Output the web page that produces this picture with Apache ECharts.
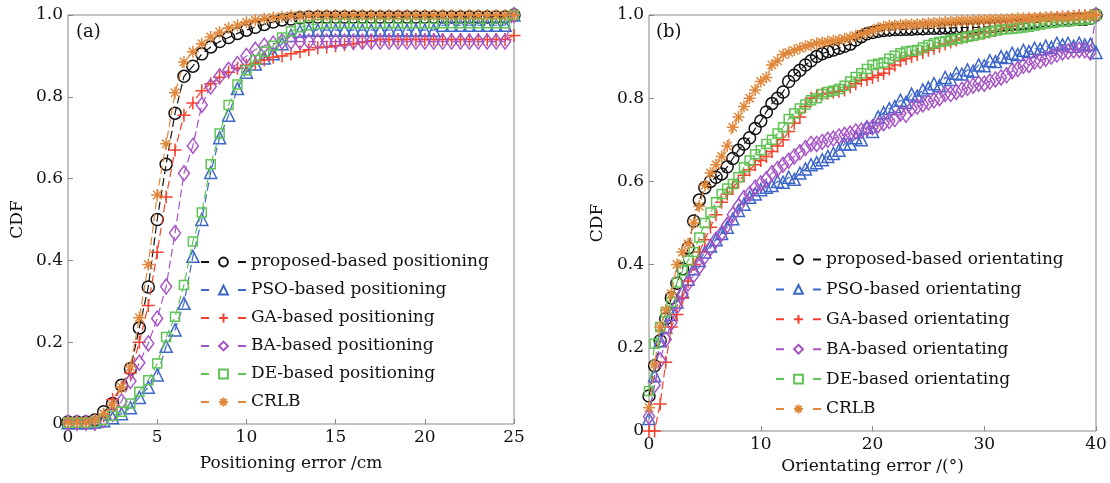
<!DOCTYPE html>
<html><head><meta charset="utf-8">
<script src="https://cdn.jsdelivr.net/npm/echarts@6/dist/echarts.min.js"></script>
<style>html,body{margin:0;padding:0;background:#fff}#c{width:1110px;height:483px}</style>
</head><body><div id="c"></div>
<script>
// ---------- data: panel (a) positioning error (cm) ----------
const xA = [0,0.5,1,1.5,2,2.5,3,3.5,4,4.5,5,5.5,6,6.5,7,7.5,8,8.5,9,9.5,10,10.5,11,11.5,12,12.5,13,13.5,14,14.5,15,15.5,16,16.5,17,17.5,18,18.5,19,19.5,20,20.5,21,21.5,22,22.5,23,23.5,24,24.5,25];
const propA = [0.005,0.005,0.005,0.01,0.03,0.05,0.095,0.135,0.235,0.335,0.50,0.635,0.76,0.85,0.875,0.905,0.922,0.935,0.945,0.955,0.963,0.97,0.977,0.983,0.988,0.99,0.993,0.995,
  0.995,0.995,0.995,0.995,0.995,0.995,0.995,0.995,0.995,0.995,0.995,0.995,0.995,0.995,0.995,0.995,0.995,0.995,0.995,0.995,0.995,0.995,1.0];
const psoA = [0.003,0.003,0.003,0.005,0.008,0.015,0.025,0.04,0.065,0.09,0.12,0.19,0.23,0.295,0.41,0.50,0.615,0.70,0.755,0.82,0.86,0.88,0.895,0.905,0.93,0.95,0.96,
  0.963,0.963,0.963,0.963,0.963,0.963,0.963,0.963,0.963,0.963,0.963,0.963,0.963,0.963,0.963,
  0.975,0.975,0.975,0.975,0.975,0.975,0.975,0.975,1.0];
const gaA = [0.003,0.003,0.003,0.008,0.02,0.06,0.09,0.125,0.20,0.29,0.42,0.555,0.67,0.755,0.785,0.815,0.832,0.848,0.86,0.87,0.877,0.882,0.89,0.897,0.90,0.905,0.91,0.915,0.92,0.922,0.925,0.927,0.93,0.933,0.937,0.94,
  0.94,0.94,0.94,0.94,0.94,0.94,0.94,0.94,0.94,0.94,0.94,0.94,0.94,0.94,0.95];
const baA = [0.003,0.003,0.003,0.003,0.01,0.025,0.055,0.105,0.15,0.197,0.258,0.336,0.467,0.613,0.68,0.78,0.825,0.85,0.866,0.88,0.90,0.915,0.925,0.93,0.935,
  0.935,0.935,0.935,0.935,0.935,0.935,0.935,0.935,0.935,0.935,0.935,0.935,0.935,0.935,0.935,0.935,0.935,0.935,0.935,0.935,0.935,0.935,0.935,0.935,0.935,1.0];
const deA = [0.003,0.003,0.003,0.005,0.01,0.02,0.03,0.05,0.079,0.107,0.148,0.213,0.262,0.34,0.446,0.517,0.635,0.71,0.78,0.83,0.865,0.89,0.91,0.925,0.945,0.96,0.97,0.975,0.978,
  0.98,0.98,0.98,0.98,0.98,0.98,0.98,0.98,0.98,0.98,0.98,0.98,0.98,0.98,0.98,0.98,0.98,0.98,0.98,0.98,0.98,1.0];
const crlbA = [0.005,0.005,0.005,0.01,0.025,0.045,0.09,0.14,0.26,0.39,0.56,0.685,0.81,0.885,0.91,0.93,0.946,0.958,0.968,0.975,0.982,0.987,0.991,0.994,0.996,0.998,0.998,0.999,
  1.0,1.0,1.0,1.0,1.0,1.0,1.0,1.0,1.0,1.0,1.0,1.0,1.0,1.0,1.0,1.0,1.0,1.0,1.0,1.0,1.0,1.0,1.0];

// ---------- data: panel (b) orientating error (deg) ----------
const xB = [0,0.5,1,1.5,2,2.5,3,3.5,4,4.5,5,5.5,6,6.5,7,7.5,8,8.5,9,9.5,10,10.5,11,11.5,12,12.5,13,13.5,14,14.5,15,15.5,16,16.5,17,17.5,18,18.5,19,19.5,20,20.5,21,21.5,22,22.5,23,23.5,24,24.5,25,25.5,26,26.5,27,27.5,28,28.5,29,29.5,30,30.5,31,31.5,32,32.5,33,33.5,34,34.5,35,35.5,36,36.5,37,37.5,38,38.5,39,39.5,40];
const propB = [0.084,0.157,0.217,0.27,0.32,0.355,0.39,0.44,0.505,0.555,
  0.585,0.60,0.61,0.618,0.635,0.655,0.675,0.69,0.705,0.727,
  0.745,0.767,0.787,0.80,0.815,0.84,0.855,0.867,0.88,0.89,
  0.90,0.907,0.912,0.916,0.92,0.925,0.93,0.94,0.948,0.955,
  0.958,0.961,0.963,0.964,0.965,0.965,0.966,0.966,0.967,0.967,
  0.968,0.968,0.968,0.969,0.969,0.969,0.97,0.97,0.97,0.97,
  0.971,0.972,0.973,0.975,0.976,0.977,0.978,0.979,0.98,0.982,
  0.983,0.984,0.985,0.986,0.987,0.988,0.989,0.99,0.99,0.992,1.0];
const psoB = [0.03,0.133,0.217,0.25,0.28,0.31,0.335,0.365,0.39,0.41,
  0.43,0.445,0.46,0.475,0.49,0.51,0.53,0.545,0.562,0.57,
  0.58,0.586,0.59,0.60,0.598,0.61,0.605,0.62,0.63,0.64,
  0.645,0.652,0.66,0.667,0.675,0.69,0.69,0.705,0.70,0.73,
  0.72,0.755,0.765,0.775,0.78,0.795,0.79,0.81,0.805,0.82,
  0.825,0.835,0.83,0.85,0.845,0.86,0.858,0.868,0.865,0.88,
  0.878,0.89,0.888,0.90,0.898,0.908,0.905,0.915,0.912,0.92,
  0.918,0.925,0.922,0.932,0.928,0.932,0.925,0.932,0.928,0.93,0.91];
const gaB = [0,0,0.065,0.165,0.25,0.28,0.32,0.36,0.40,0.43,
  0.46,0.49,0.52,0.55,0.57,0.585,0.60,0.615,0.628,0.64,
  0.65,0.66,0.672,0.685,0.70,0.72,0.74,0.755,0.78,0.80,
  0.805,0.81,0.812,0.815,0.817,0.82,0.827,0.835,0.843,0.845,
  0.85,0.855,0.86,0.87,0.88,0.89,0.895,0.90,0.905,0.91,
  0.915,0.92,0.925,0.93,0.935,0.94,0.945,0.948,0.952,0.955,
  0.957,0.96,0.963,0.966,0.97,0.973,0.978,0.983,0.988,0.99,
  0.991,0.992,0.993,0.994,0.995,0.996,0.997,0.998,0.998,0.999,1.0];
const baB = [0.035,0.11,0.17,0.22,0.26,0.30,0.33,0.355,0.375,0.395,
  0.42,0.44,0.46,0.475,0.495,0.52,0.54,0.56,0.57,0.585,
  0.595,0.605,0.62,0.63,0.64,0.65,0.66,0.67,0.68,0.69,
  0.69,0.695,0.70,0.703,0.708,0.712,0.715,0.72,0.722,0.728,
  0.73,0.735,0.74,0.745,0.75,0.763,0.76,0.775,0.78,0.785,
  0.79,0.795,0.80,0.81,0.81,0.815,0.82,0.825,0.83,0.835,
  0.835,0.84,0.845,0.85,0.855,0.865,0.87,0.878,0.88,0.888,
  0.89,0.895,0.90,0.905,0.91,0.912,0.915,0.916,0.915,0.91,1.0];
const deB = [0.096,0.21,0.25,0.285,0.31,0.357,0.385,0.41,0.43,0.465,
  0.50,0.525,0.55,0.57,0.583,0.594,0.61,0.634,0.65,0.665,
  0.675,0.69,0.70,0.715,0.73,0.75,0.763,0.775,0.785,0.795,
  0.80,0.81,0.815,0.818,0.822,0.83,0.84,0.851,0.86,0.87,
  0.88,0.883,0.886,0.895,0.902,0.908,0.912,0.914,0.916,0.922,
  0.928,0.932,0.935,0.937,0.94,0.943,0.945,0.948,0.95,0.953,
  0.957,0.96,0.963,0.965,0.966,0.967,0.968,0.97,0.972,0.975,
  0.977,0.98,0.981,0.983,0.984,0.985,0.986,0.988,0.989,0.99,1.0];
const crlbB = [0.056,0.16,0.25,0.29,0.33,0.40,0.43,0.45,0.50,0.54,
  0.59,0.62,0.64,0.66,0.685,0.73,0.755,0.78,0.80,0.82,
  0.84,0.85,0.88,0.89,0.905,0.91,0.915,0.92,0.925,0.928,
  0.932,0.934,0.936,0.938,0.94,0.943,0.946,0.95,0.954,0.958,
  0.963,0.968,0.972,0.974,0.975,0.976,0.977,0.977,0.978,0.979,
  0.98,0.981,0.982,0.983,0.984,0.985,0.986,0.986,0.987,0.988,
  0.988,0.989,0.989,0.99,0.99,0.991,0.992,0.992,0.993,0.993,
  0.994,0.994,0.995,0.995,0.996,0.996,0.997,0.997,0.998,0.999,1.0];

const namesA = ['proposed-based positioning','PSO-based positioning','GA-based positioning','BA-based positioning','DE-based positioning','CRLB'];
const namesB = ['proposed-based orientating','PSO-based orientating','GA-based orientating','BA-based orientating','DE-based orientating','CRLB'];
const yTicks = ['0','0.2','0.4','0.6','0.8','1.0'];
const xTicksA = ['0','5','10','15','20','25'];
const xTicksB = ['0','10','20','30','40'];

// ---------- styles ----------
const FONT = 'DejaVu Serif';
const TXT = '#111';
const colors = ['#111111','#3d66c9','#f5402c','#a653c6','#5fc455','#e0873a'];
const PLUS = 'path://M5,0L5,10M0,5L10,5';
const STAR = 'path://M5,0L5,10M0,5L10,5M1.5,1.5L8.5,8.5M1.5,8.5L8.5,1.5';
const symbols = ['circle','triangle',PLUS,'diamond','rect',STAR];
const sizes = [12,12,13,[11,15],9,12];

function zip(xs, ys){ return xs.map((x,i)=>[x, ys[i]]); }
function mk(name, idx, xs, ys, g){
  return {
    type:'line', name, xAxisIndex:g, yAxisIndex:g, data: zip(xs, ys),
    symbol: symbols[idx], symbolSize: sizes[idx], showAllSymbol:true,
    itemStyle:{color:'rgba(0,0,0,0)', borderColor:colors[idx], borderWidth:1.5},
    lineStyle:{color:colors[idx], width:1.2, type:[8,4]},
    emphasis:{disabled:true}, animation:false, clip:false, z: 2+idx
  };
}
const seriesA = [propA,psoA,gaA,baA,deA,crlbA];
const seriesB = [propB,psoB,gaB,baB,deB,crlbB];
const series = [];
seriesA.forEach((d,i)=>series.push(mk(namesA[i], i, xA, d, 0)));
seriesB.forEach((d,i)=>series.push(mk(namesB[i], i, xB, d, 1)));

function xAx(g, max, interval, ticks, name, gap){
  return {type:'value', gridIndex:g, min:0, max, interval,
    axisLine:{show:false}, splitLine:{show:false},
    axisTick:{inside:true, length:5, lineStyle:{color:'#888'}},
    axisLabel:{margin:5, fontFamily:FONT, fontSize:17, color:TXT, formatter:v=>ticks[Math.round(v/interval)]},
    name, nameLocation:'middle', nameGap:gap, nameTextStyle:{fontFamily:FONT, fontSize:17, color:TXT}};
}
function yAx(g, gap){
  return {type:'value', gridIndex:g, min:0, max:1, interval:0.2,
    axisLine:{show:false}, splitLine:{show:false},
    axisTick:{inside:true, length:5, lineStyle:{color:'#888'}},
    axisLabel:{margin:5, fontFamily:FONT, fontSize:17, color:TXT, formatter:v=>yTicks[Math.round(v/0.2)]},
    name:'CDF', nameLocation:'middle', nameGap:gap, nameTextStyle:{fontFamily:FONT, fontSize:17, color:TXT}};
}
function lg(names, left, top, gap){
  return {data:names, orient:'vertical', left, top, padding:0, itemWidth:45, itemHeight:11, itemGap:gap,
    selectedMode:false, lineStyle:{type:[8,29]},
    textStyle:{fontFamily:FONT, fontSize:17, color:TXT, lineHeight:18}};
}

const chart = echarts.init(document.getElementById('c'), null, {renderer:'canvas'});
chart.setOption({
  backgroundColor:'#fff', animation:false,
  grid:[
    {left:68, right:596, top:15, bottom:59, show:true, borderColor:'#888', borderWidth:1},
    {left:649, right:14, top:15, bottom:52, show:true, borderColor:'#888', borderWidth:1}
  ],
  xAxis:[ xAx(0,25,5,xTicksA,'Positioning error /cm',31), xAx(1,40,10,xTicksB,'Orientating error /(°)',27) ],
  yAxis:[ yAx(0,42), yAx(1,43) ],
  legend:[ lg(namesA,200,253,10), lg(namesB,775,250.5,11.9) ],
  graphic:[
    {type:'text', left:76, top:23, style:{text:'(a)', font:'18px "DejaVu Serif"', fill:TXT}},
    {type:'text', left:656, top:23, style:{text:'(b)', font:'18px "DejaVu Serif"', fill:TXT}}
  ],
  series
});
</script></body></html>
